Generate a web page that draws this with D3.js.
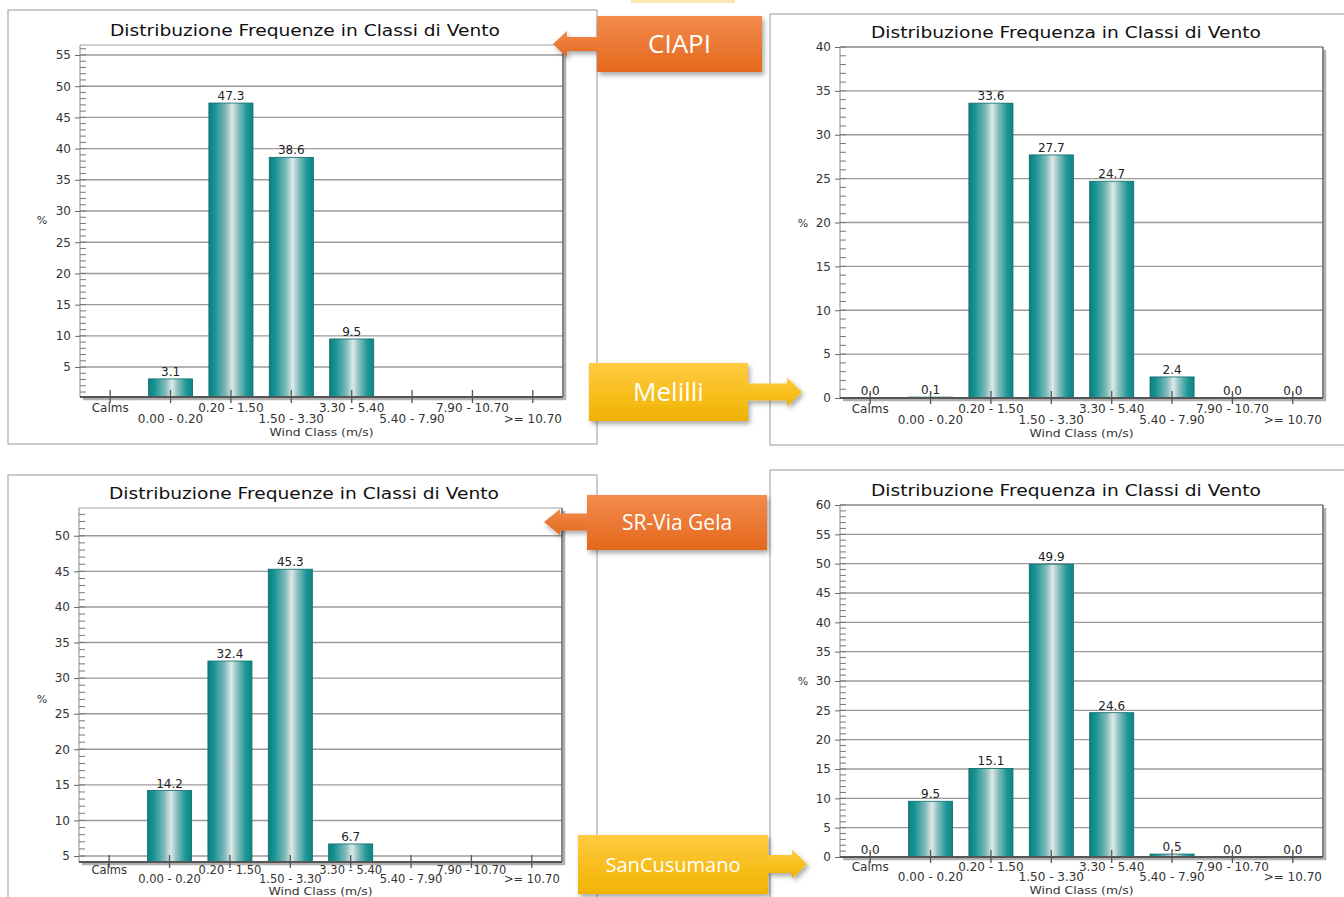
<!DOCTYPE html>
<html>
<head>
<meta charset="utf-8">
<script src="https://cdn.jsdelivr.net/npm/d3@7"></script>
<style>
  body { margin: 0; background: #fff; }
  svg { display: block; }
</style>
</head>
<body>
<svg id="chart" width="1344" height="897"></svg>
<script>
// wind classes, shared by all four stations
const categories = ["Calms", "0.00 - 0.20", "0.20 - 1.50", "1.50 - 3.30", "3.30 - 5.40", "5.40 - 7.90", "7.90 - 10.70", ">= 10.70"];

// frequencies (%) per station
const ciapiValues = [0, 3.1, 47.3, 38.6, 9.5, 0, 0, 0];
const melilliValues = [0.0, 0.1, 33.6, 27.7, 24.7, 2.4, 0.0, 0.0];
const viaGelaValues = [0, 14.2, 32.4, 45.3, 6.7, 0, 0, 0];
const sanCusumanoValues = [0.0, 9.5, 15.1, 49.9, 24.6, 0.5, 0.0, 0.0];

// y tick labels
const ciapiTicks = [5, 10, 15, 20, 25, 30, 35, 40, 45, 50, 55];
const melilliTicks = [0, 5, 10, 15, 20, 25, 30, 35, 40];
const viaGelaTicks = [5, 10, 15, 20, 25, 30, 35, 40, 45, 50];
const sanCusumanoTicks = [0, 5, 10, 15, 20, 25, 30, 35, 40, 45, 50, 55, 60];

const titleA = "Distribuzione Frequenze in Classi di Vento";
const titleB = "Distribuzione Frequenza in Classi di Vento";

const stationNames = ["CIAPI", "Melilli", "SR-Via Gela", "SanCusumano"];

const svg = d3.select("#chart");
const defs = svg.append("defs");

// cylinder look of the bars
const grad = defs.append("linearGradient").attr("id", "barGrad")
  .attr("x1", "0%").attr("x2", "100%").attr("y1", "0%").attr("y2", "0%");
[["0%", "#0c7f7f"], ["14%", "#1a9494"], ["38%", "#7fb9b9"], ["53%", "#dfe8e8"], ["66%", "#8cc0c0"], ["86%", "#1c9696"], ["100%", "#0e8585"]]
  .forEach(s => grad.append("stop").attr("offset", s[0]).attr("stop-color", s[1]));

const orangeGrad = defs.append("linearGradient").attr("id", "orangeGrad")
  .attr("x1", "0%").attr("x2", "0%").attr("y1", "0%").attr("y2", "100%");
orangeGrad.append("stop").attr("offset", "0%").attr("stop-color", "#f28b4d");
orangeGrad.append("stop").attr("offset", "100%").attr("stop-color", "#e4681c");

const yellowGrad = defs.append("linearGradient").attr("id", "yellowGrad")
  .attr("x1", "0%").attr("x2", "0%").attr("y1", "0%").attr("y2", "100%");
yellowGrad.append("stop").attr("offset", "0%").attr("stop-color", "#ffcb40");
yellowGrad.append("stop").attr("offset", "100%").attr("stop-color", "#f0b300");

const shadow = defs.append("filter").attr("id", "shadow")
  .attr("x", "-20%").attr("y", "-20%").attr("width", "150%").attr("height", "160%");
shadow.append("feDropShadow").attr("dx", 2).attr("dy", 3).attr("stdDeviation", 2.5)
  .attr("flood-color", "#000").attr("flood-opacity", 0.35);

const FONT = "'DejaVu Sans', Verdana, sans-serif";

// panel frames (the screenshots pasted into the slide)
const panels = [
  {x: 8, y: 10, w: 589, h: 434},
  {x: 770, y: 14, w: 600, h: 431},
  {x: 8, y: 475, w: 589, h: 440},
  {x: 770, y: 470, w: 600, h: 440}
];
svg.append("g").selectAll("rect").data(panels).enter().append("rect")
  .attr("x", d => d.x).attr("y", d => d.y)
  .attr("width", d => d.w).attr("height", d => d.h)
  .attr("fill", "none").attr("stroke", "#9a9a9a").attr("stroke-width", 1);

function drawChart(cfg) {
  const g = svg.append("g");
  const x = d3.scaleBand().domain(categories).range([cfg.left, cfg.right]).paddingInner(0.27).paddingOuter(0.135);
  const y = d3.scaleLinear().domain(cfg.domain).range([cfg.bottom, cfg.top]);
  const rowOff = cfg.rowOff || [15, 26];
  const catSize = cfg.catSize || 12;

  // title
  g.append("text")
    .attr("x", cfg.titleX).attr("y", cfg.top - 9)
    .attr("text-anchor", "middle")
    .attr("textLength", 390).attr("lengthAdjust", "spacingAndGlyphs")
    .style("font-family", FONT).style("font-size", "15.5px").attr("fill", "#111")
    .text(cfg.title);

  // top frame line and left axis line
  g.append("line").attr("x1", cfg.left).attr("x2", cfg.right).attr("y1", cfg.top).attr("y2", cfg.top)
    .attr("stroke", "#a0a0a0").attr("stroke-width", 1.2);
  g.append("line").attr("x1", cfg.left).attr("x2", cfg.left).attr("y1", cfg.top).attr("y2", cfg.bottom)
    .attr("stroke", "#8a8a8a").attr("stroke-width", 1);

  // gridlines
  g.append("g").selectAll("line").data(cfg.ticks).enter().append("line")
    .attr("x1", cfg.left).attr("x2", cfg.right)
    .attr("y1", d => y(d)).attr("y2", d => y(d))
    .attr("stroke", "#9a9a9a").attr("stroke-width", 1.4);

  // minor ticks every unit
  const minor = d3.range(Math.ceil(cfg.domain[0]), Math.floor(cfg.domain[1]) + 1);
  g.append("g").selectAll("line").data(minor).enter().append("line")
    .attr("x1", cfg.left).attr("x2", cfg.left + 6)
    .attr("y1", d => y(d)).attr("y2", d => y(d))
    .attr("stroke", "#777").attr("stroke-width", 1);

  // major ticks + labels
  const yAxis = d3.axisLeft(y).tickValues(cfg.ticks).tickSize(5).tickPadding(4);
  const ya = g.append("g").attr("transform", `translate(${cfg.left},0)`).call(yAxis);
  ya.select(".domain").remove();
  ya.selectAll(".tick line").attr("stroke", "#666");
  ya.selectAll(".tick text").style("font-family", FONT).style("font-size", "12px").attr("fill", "#333");

  g.append("text")
    .attr("x", cfg.pctX).attr("y", cfg.pctY)
    .attr("text-anchor", "middle")
    .style("font-family", FONT).style("font-size", "11px").attr("fill", "#333")
    .text("%");

  // bars
  const base = cfg.bottom;
  const rows = cfg.values.map((v, i) => ({v: v, c: categories[i]}));
  g.append("g").selectAll("rect").data(rows.filter(d => d.v > cfg.domain[0])).enter()
    .append("rect")
    .attr("x", d => x(d.c))
    .attr("y", d => y(d.v))
    .attr("width", x.bandwidth())
    .attr("height", d => base - y(d.v))
    .attr("fill", "url(#barGrad)")
    .attr("stroke", "#0b6b6b").attr("stroke-width", 0.8);

  // value labels
  g.append("g").selectAll("text").data(rows.filter(d => cfg.showZero || d.v > cfg.domain[0])).enter()
    .append("text")
    .attr("x", d => x(d.c) + x.bandwidth() / 2)
    .attr("y", d => Math.min(y(Math.max(d.v, cfg.domain[0])), base) - 3)
    .attr("text-anchor", "middle")
    .style("font-family", FONT).style("font-size", "12px").attr("fill", "#222")
    .text(d => d.v.toFixed(1));

  // frame right edge + shadow
  g.append("line").attr("x1", cfg.right + 2).attr("x2", cfg.right + 2).attr("y1", cfg.top + 3).attr("y2", cfg.bottom + 3)
    .attr("stroke", "#b0b0b0").attr("stroke-width", 2.5);
  g.append("line").attr("x1", cfg.right).attr("x2", cfg.right).attr("y1", cfg.top).attr("y2", cfg.bottom)
    .attr("stroke", "#6a6a6a").attr("stroke-width", 1.6);

  // bottom axis + shadow
  g.append("line").attr("x1", cfg.left + 3).attr("x2", cfg.right + 3).attr("y1", cfg.bottom + 2).attr("y2", cfg.bottom + 2)
    .attr("stroke", "#b0b0b0").attr("stroke-width", 2.5);
  g.append("line").attr("x1", cfg.left).attr("x2", cfg.right).attr("y1", cfg.bottom).attr("y2", cfg.bottom)
    .attr("stroke", "#555").attr("stroke-width", 2);

  // category ticks
  g.append("g").selectAll("line").data(categories).enter().append("line")
    .attr("x1", d => x(d) + x.bandwidth() / 2).attr("x2", d => x(d) + x.bandwidth() / 2)
    .attr("y1", cfg.bottom - 7).attr("y2", cfg.bottom + 6)
    .attr("stroke", "#555").attr("stroke-width", 1.3);

  // category labels on two staggered rows
  g.append("g").selectAll("text").data(categories).enter().append("text")
    .attr("x", d => x(d) + x.bandwidth() / 2)
    .attr("y", (d, i) => cfg.bottom + rowOff[i % 2])
    .attr("text-anchor", "middle")
    .style("font-family", FONT).style("font-size", catSize + "px").attr("fill", "#333")
    .text(d => d);

  g.append("text")
    .attr("x", (cfg.left + cfg.right) / 2).attr("y", Math.min(cfg.bottom + rowOff[1] + 13, 895))
    .attr("text-anchor", "middle")
    .attr("textLength", 104).attr("lengthAdjust", "spacingAndGlyphs")
    .style("font-family", FONT).style("font-size", (cfg.windSize || 11) + "px").attr("fill", "#333")
    .text("Wind Class (m/s)");
}

drawChart({values: ciapiValues, ticks: ciapiTicks, domain: [0.2, 56.6], title: titleA, titleX: 305,
  left: 80, right: 563, top: 45, bottom: 397, pctX: 42, pctY: 224, showZero: false});
drawChart({values: melilliValues, ticks: melilliTicks, domain: [0, 40], title: titleB, titleX: 1066,
  left: 840, right: 1323, top: 47, bottom: 398, pctX: 803, pctY: 227, showZero: true});
drawChart({values: viaGelaValues, ticks: viaGelaTicks, domain: [4.16, 53.9], title: titleA, titleX: 304,
  left: 79, right: 562, top: 508, bottom: 862, pctX: 42, pctY: 703, showZero: false,
  rowOff: [12, 21], catSize: 11.5, windSize: 10});
drawChart({values: sanCusumanoValues, ticks: sanCusumanoTicks, domain: [0, 60], title: titleB, titleX: 1066,
  left: 840, right: 1323, top: 505, bottom: 857, pctX: 803, pctY: 685, showZero: true, rowOff: [14, 24]});

// small strip of another callout at the top edge
svg.append("rect").attr("x", 631).attr("y", 0).attr("width", 104).attr("height", 3).attr("fill", "#fde7b0");

// station callouts
const callouts = [
  {box: [597, 16, 165, 56], dir: "left", tip: [553, 44], headX: 567, headH: 26, shaftH: 14, fill: "url(#orangeGrad)", size: 26},
  {box: [589, 363, 159, 58], dir: "right", tip: [802, 392], headX: 787, headH: 29, shaftH: 17, fill: "url(#yellowGrad)", size: 26},
  {box: [587, 495, 180, 55], dir: "left", tip: [544, 522], headX: 560, headH: 26, shaftH: 17, fill: "url(#orangeGrad)", size: 21},
  {box: [578, 835, 190, 59], dir: "right", tip: [807, 864], headX: 792, headH: 29, shaftH: 18, fill: "url(#yellowGrad)", size: 20}
];

callouts.forEach((c, i) => {
  const [bx, by, bw, bh] = c.box;
  const [tx, ty] = c.tip;
  const edge = c.dir === "left" ? bx : bx + bw;
  const pts = [
    [edge, ty - c.shaftH / 2], [c.headX, ty - c.shaftH / 2], [c.headX, ty - c.headH / 2],
    [tx, ty], [c.headX, ty + c.headH / 2], [c.headX, ty + c.shaftH / 2], [edge, ty + c.shaftH / 2]
  ];
  const cg = svg.append("g").attr("filter", "url(#shadow)");
  cg.append("polygon").attr("points", pts.map(p => p.join(",")).join(" ")).attr("fill", c.fill);
  cg.append("rect").attr("x", bx).attr("y", by).attr("width", bw).attr("height", bh).attr("fill", c.fill);
  svg.append("text")
    .attr("x", bx + bw / 2).attr("y", by + bh / 2)
    .attr("dy", "0.36em")
    .attr("text-anchor", "middle")
    .style("font-family", "'Open Sans', 'Noto Sans', sans-serif").style("font-size", c.size + "px")
    .attr("fill", "#fff")
    .text(stationNames[i]);
});
</script>
</body>
</html>
